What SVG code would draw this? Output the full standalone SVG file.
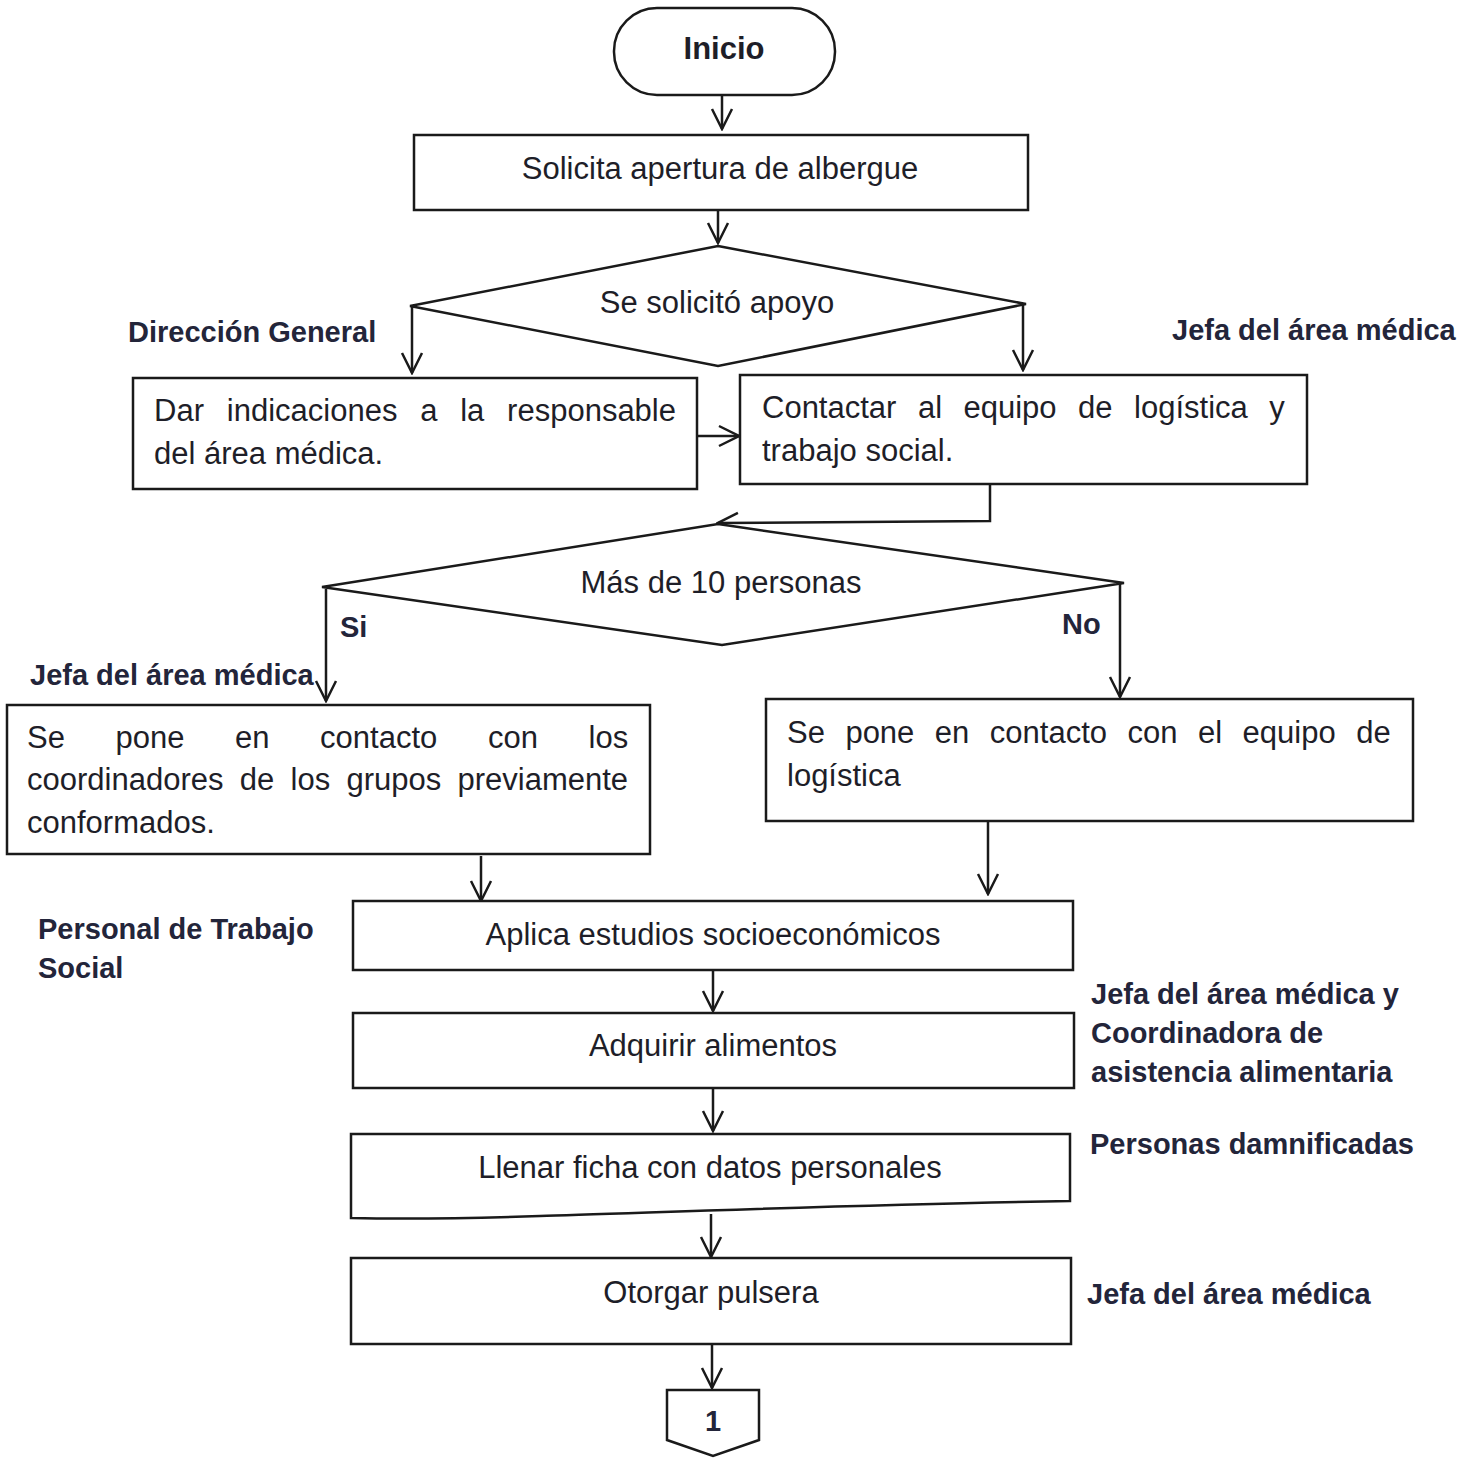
<svg xmlns="http://www.w3.org/2000/svg" width="1478" height="1458" viewBox="0 0 1478 1458">
<style>
.shape{fill:#fff;stroke:#1a1a1a;stroke-width:2.5}
.conn{fill:none;stroke:#1a1a1a;stroke-width:2.5}
.t{font-family:"Liberation Sans",Arial,sans-serif;font-size:31px;fill:#1e1e28}
.c{text-anchor:middle}
.b{font-family:"Liberation Sans",Arial,sans-serif;font-size:29px;font-weight:bold;fill:#23253a}
</style>
<defs>
<marker id="arr" viewBox="-22 -12 24 24" refX="0" refY="0" markerUnits="userSpaceOnUse" markerWidth="24" markerHeight="24" orient="auto">
<path d="M-20,-10 L0,0 L-20,10" fill="none" stroke="#1a1a1a" stroke-width="2.5"/>
</marker>
</defs>
<rect width="1478" height="1458" fill="#fff"/>

<g id="connectors">
<line class="conn" x1="722" y1="95" x2="722" y2="129" marker-end="url(#arr)"/>
<line class="conn" x1="718" y1="210" x2="718" y2="243" marker-end="url(#arr)"/>
<line class="conn" x1="412" y1="307" x2="412" y2="373" marker-end="url(#arr)"/>
<line class="conn" x1="1023" y1="305" x2="1023" y2="370" marker-end="url(#arr)"/>
<line class="conn" x1="697" y1="436" x2="739" y2="436" marker-end="url(#arr)"/>
<polyline class="conn" points="990,484 990,521 718,523" marker-end="url(#arr)"/>
<line class="conn" x1="326" y1="589" x2="326" y2="701" marker-end="url(#arr)"/>
<line class="conn" x1="1120" y1="584" x2="1120" y2="697" marker-end="url(#arr)"/>
<line class="conn" x1="481" y1="856" x2="481" y2="901" marker-end="url(#arr)"/>
<line class="conn" x1="988" y1="821" x2="988" y2="894" marker-end="url(#arr)"/>
<line class="conn" x1="713" y1="970" x2="713" y2="1011" marker-end="url(#arr)"/>
<line class="conn" x1="713" y1="1088" x2="713" y2="1131" marker-end="url(#arr)"/>
<line class="conn" x1="711" y1="1214" x2="711" y2="1257" marker-end="url(#arr)"/>
<line class="conn" x1="712" y1="1344" x2="712" y2="1388" marker-end="url(#arr)"/>
</g>

<g id="inicio">
<rect class="shape" x="614" y="8" width="221" height="87" rx="43" ry="43"/>
<text class="t c" x="724" y="59" style="font-weight:bold">Inicio</text>
</g>

<g id="solicita">
<rect class="shape" x="414" y="135" width="614" height="75"/>
<text class="t c" x="720" y="179">Solicita apertura de albergue</text>
</g>

<g id="decision1">
<polygon class="shape" points="718,246 1026,304 718,366 410,306"/>
<text class="t c" x="717" y="313">Se solicitó apoyo</text>
</g>

<g id="label-direccion">
<text class="b" x="128" y="342">Dirección General</text>
</g>
<g id="label-jefa1">
<text class="b" x="1172" y="340">Jefa del área médica</text>
</g>

<g id="dar-indicaciones">
<rect class="shape" x="133" y="378" width="564" height="111"/>
<text class="t" y="421"><tspan x="154">Dar</tspan><tspan x="226.8">indicaciones</tspan><tspan x="420.2">a</tspan><tspan x="460.2">la</tspan><tspan x="507.1">responsable</tspan></text>
<text class="t" x="154" y="464">del área médica.</text>
</g>

<g id="contactar">
<rect class="shape" x="740" y="375" width="567" height="109"/>
<text class="t" y="418"><tspan x="762">Contactar</tspan><tspan x="917.9">al</tspan><tspan x="963.5">equipo</tspan><tspan x="1078.1">de</tspan><tspan x="1134.1">logística</tspan><tspan x="1269.3">y</tspan></text>
<text class="t" x="762" y="461">trabajo social.</text>
</g>

<g id="decision2">
<polygon class="shape" points="718,524 1124,583 722,645 322,587"/>
<text class="t c" x="721" y="593">Más de 10 personas</text>
</g>

<g id="label-si"><text class="b" x="340" y="637">Si</text></g>
<g id="label-no"><text class="b" x="1062" y="634">No</text></g>
<g id="label-jefa2"><text class="b" x="30" y="685">Jefa del área médica</text></g>

<g id="contacto-coordinadores">
<rect class="shape" x="7" y="705" width="643" height="149"/>
<text class="t" y="748"><tspan x="27">Se</tspan><tspan x="115.5">pone</tspan><tspan x="235">en</tspan><tspan x="320.1">contacto</tspan><tspan x="487.9">con</tspan><tspan x="588.5">los</tspan></text>
<text class="t" y="790"><tspan x="27">coordinadores</tspan><tspan x="239.7">de</tspan><tspan x="290.5">los</tspan><tspan x="346.4">grupos</tspan><tspan x="457.5">previamente</tspan></text>
<text class="t" x="27" y="833">conformados.</text>
</g>

<g id="contacto-logistica">
<rect class="shape" x="766" y="699" width="647" height="122"/>
<text class="t" y="743"><tspan x="787">Se</tspan><tspan x="845.4">pone</tspan><tspan x="934.8">en</tspan><tspan x="989.8">contacto</tspan><tspan x="1127.5">con</tspan><tspan x="1198">el</tspan><tspan x="1242.6">equipo</tspan><tspan x="1356.2">de</tspan></text>
<text class="t" x="787" y="786">logística</text>
</g>

<g id="label-trabajo-social">
<text class="b" x="38" y="939">Personal de Trabajo</text>
<text class="b" x="38" y="978">Social</text>
</g>

<g id="estudios">
<rect class="shape" x="353" y="901" width="720" height="69"/>
<text class="t c" x="713" y="945">Aplica estudios socioeconómicos</text>
</g>

<g id="label-coordinadora">
<text class="b" x="1091" y="1004">Jefa del área médica y</text>
<text class="b" x="1091" y="1043">Coordinadora de</text>
<text class="b" x="1091" y="1082">asistencia alimentaria</text>
</g>

<g id="alimentos">
<rect class="shape" x="353" y="1013" width="721" height="75"/>
<text class="t c" x="713" y="1056">Adquirir alimentos</text>
</g>

<g id="label-damnificadas">
<text class="b" x="1090" y="1154">Personas damnificadas</text>
</g>

<g id="ficha">
<path class="shape" d="M351,1134 H1070 V1201 C860,1204 620,1214 540,1216 C450,1219 400,1219 351,1218 Z"/>
<text class="t c" x="710" y="1178">Llenar ficha con datos personales</text>
</g>

<g id="pulsera">
<rect class="shape" x="351" y="1258" width="720" height="86"/>
<text class="t c" x="711" y="1303">Otorgar pulsera</text>
</g>

<g id="label-jefa3">
<text class="b" x="1087" y="1304">Jefa del área médica</text>
</g>

<g id="conector-1">
<polygon class="shape" points="667,1390 759,1390 759,1440 713,1456 667,1440"/>
<text class="b c" x="713" y="1431">1</text>
</g>
</svg>
